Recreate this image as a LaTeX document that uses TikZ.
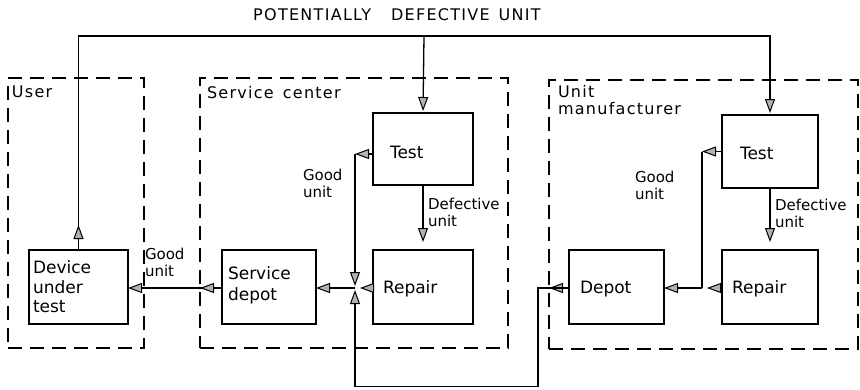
\documentclass[tikz,border=0pt]{standalone}
\usepackage{fontspec}
\setmainfont{DejaVu Sans}
\usetikzlibrary{arrows.meta,calc}

\begin{document}
\begin{tikzpicture}[x=1pt,y=-1pt,
  every node/.style={inner sep=0pt, outer sep=0pt},
  box/.style={draw, line width=1.5pt, anchor=north west},
  region/.style={draw, dash pattern=on 14pt off 8pt, line width=1.1pt, anchor=north west},
  line/.style={line width=1.3pt},
  tip/.style={-{Triangle[length=14pt,width=10pt,fill=gray!60,line width=1pt]}},
  arr/.style={line, tip},
  txt/.style={align=left, anchor=west},
  boxtext/.style={txt, font=\fontsize{17}{19.5}\selectfont},
  flowtext/.style={txt, font=\fontsize{15}{17}\selectfont},
  areatext/.style={txt, font=\fontsize{16}{17}\selectfont\addfontfeatures{LetterSpace=8}},
  one/.style={text depth=0pt},
]
\useasboundingbox (0,0) rectangle (860,389);

% organisational regions
\node[region, minimum width=136pt, minimum height=270pt] (user) at (8,78) {};
\node[region, minimum width=308pt, minimum height=270pt] (sc) at (200,78) {};
\node[region, minimum width=309pt, minimum height=269pt] (um) at (549,80) {};

\node[areatext, one] (user-l) at (12,92) {User};
\node[areatext, one] (sc-l) at (207,92) {Service\hspace{9pt}center};
\node[areatext] (um-l) at (558,100.5) {Unit\\manufacturer};

% functional blocks
\node[box, minimum width=99pt, minimum height=74pt] (dut) at (29,250) {};
\node[box, minimum width=94pt, minimum height=74pt] (sdep) at (222,250) {};
\node[box, minimum width=100pt, minimum height=72pt] (stest) at (373,113) {};
\node[box, minimum width=100pt, minimum height=74pt] (srep) at (373,250) {};
\node[box, minimum width=95pt, minimum height=74pt] (dep) at (569,250) {};
\node[box, minimum width=96pt, minimum height=73pt] (mtest) at (722,115) {};
\node[box, minimum width=96pt, minimum height=74pt] (mrep) at (722,250) {};

\node[boxtext] (dut-t) at (33,287) {Device\\under\\test};
\node[boxtext, font=\fontsize{17}{21}\selectfont] (sdep-t) at (228,285.5) {Service\\depot};
\node[boxtext, one] (stest-t) at (390,152) {Test};
\node[boxtext, one] (srep-t) at (383,287) {Repair};
\node[boxtext, one] (dep-t) at (580,287) {Depot};
\node[boxtext, one] (mtest-t) at (740,153) {Test};
\node[boxtext, one] (mrep-t) at (732,287) {Repair};

% routing points
\coordinate (ttop) at (770,36);
\coordinate (sbranch) at (424,36);
\coordinate (sgc) at (355,154);
\coordinate (sj) at (355,288);
\coordinate (mgc) at (702,151.5);
\coordinate (mj) at (702,288);
\coordinate (rb) at (538,386.5);

% potentially defective unit loop
\node[areatext, one, anchor=center] (title) at (397,15) {POTENTIALLY\hspace{20pt}DEFECTIVE\hspace{9pt}UNIT};
\draw[arr, shorten >=2pt] (dut.north) -- (dut.north |- ttop) -- (ttop) -- (mtest.north);
\draw[arr, shorten >=2pt] (sbranch) -- (stest.north);
\draw[arr] (dut.north) -- ++(0,-25);

% service center flows
\draw[arr, shorten >=8pt] (stest.south) -- (srep.north);
\node[flowtext] (sdef) at (428,212.5) {Defective\\unit};
\draw[arr] (stest.west |- sgc) -- (sgc);
\draw[arr, shorten >=2pt] (sgc) -- (sj);
\node[flowtext] (sgood) at (303,183.5) {Good\\unit};
\draw[arr, shorten >=5pt] (srep.west |- sj) -- (sj);
\draw[arr] (sj) -- (sdep.east |- sj);
\draw[arr] (sdep.west |- sj) -- (dut.east |- sj);
\draw[arr] (sdep.west |- sj) -- (sc.west |- sj);
\node[flowtext] (ugood) at (145,262) {Good\\unit};

% manufacturer flows
\draw[arr, shorten >=8pt] (mtest.south) -- (mrep.north);
\node[flowtext] (mdef) at (775,213.5) {Defective\\unit};
\draw[arr] (mtest.west |- mgc) -- (mgc);
\draw[line] (mgc) -- (mj);
\node[flowtext] (mgood) at (635,185) {Good\\unit};
\draw[arr, shorten >=5pt] (mrep.west |- mj) -- (mj);
\draw[arr] (mj) -- (dep.east |- mj);
\draw[arr] (dep.west |- mj) -- (um.west |- mj);

% return path from the manufacturer depot
\draw[arr, shorten >=2pt] (dep.west |- mj) -| (rb) -| (sj);
\end{tikzpicture}
\end{document}
